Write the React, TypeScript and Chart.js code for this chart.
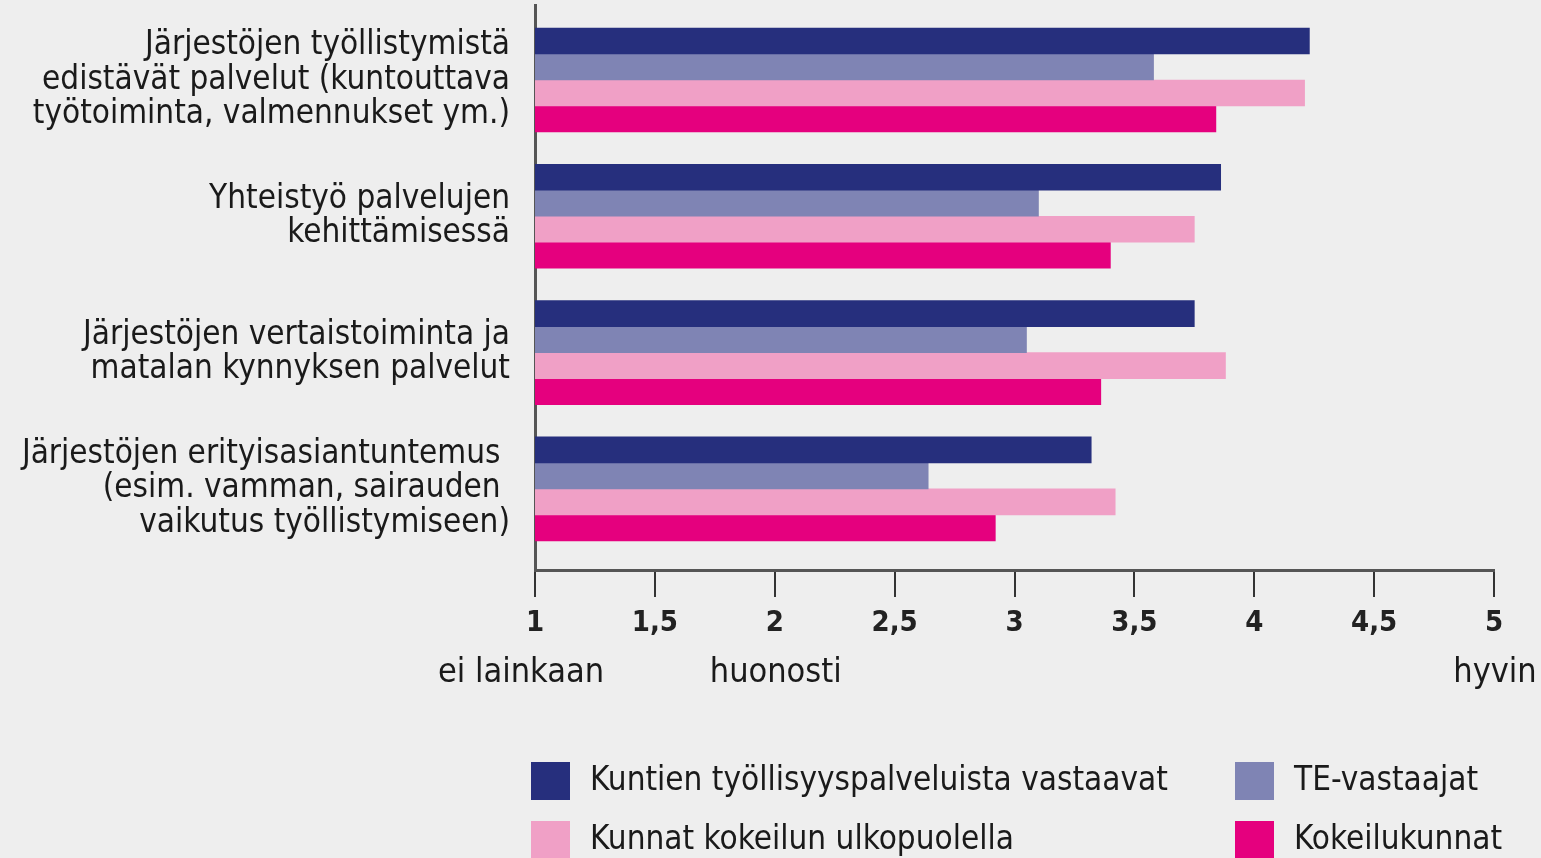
import React, { useEffect, useRef } from "react";
import { Chart, registerables } from "chart.js";

Chart.register(...registerables);

const categories: string[][] = [
  ["Järjestöjen työllistymistä", "edistävät palvelut (kuntouttava", "työtoiminta, valmennukset ym.)"],
  ["Yhteistyö palvelujen", "kehittämisessä"],
  ["Järjestöjen vertaistoiminta ja", "matalan kynnyksen palvelut"],
  ["Järjestöjen erityisasiantuntemus ", "(esim. vamman, sairauden ", "vaikutus työllistymiseen)"],
];

const seriesNames = [
  "Kuntien työllisyyspalveluista vastaavat",
  "TE-vastaajat",
  "Kunnat kokeilun ulkopuolella",
  "Kokeilukunnat",
];

const kuntienValues = [4.23, 3.86, 3.75, 3.32];
const teValues = [3.58, 3.1, 3.05, 2.64];
const ulkopuolellaValues = [4.21, 3.75, 3.88, 3.42];
const kokeiluValues = [3.84, 3.4, 3.36, 2.92];

const seriesColors = ["#262f7d", "#7f84b4", "#f0a0c6", "#e5007e"];

const xTicks = [1, 1.5, 2, 2.5, 3, 3.5, 4, 4.5, 5];
const scaleWords: { value: number; text: string }[] = [
  { value: 1, text: "ei lainkaan" },
  { value: 2, text: "huonosti" },
  { value: 5, text: "hyvin" },
];

const FONT = "'Liberation Sans Narrow', 'DejaVu Sans Condensed', 'Roboto Condensed', 'Liberation Sans', sans-serif";

export default function App() {
  const canvasRef = useRef<HTMLCanvasElement | null>(null);

  useEffect(() => {
    document.body.style.margin = "0";
    document.body.style.background = "#eeeeee";
    const canvas = canvasRef.current;
    if (!canvas) return;

    const allValues = [kuntienValues, teValues, ulkopuolellaValues, kokeiluValues];

    const wordsPlugin = {
      id: "scaleWords",
      afterDraw(chart: any) {
        const ctx = chart.ctx;
        const xs = chart.scales.x;
        ctx.save();
        ctx.font = `34px ${FONT}`;
        ctx.fillStyle = "#1a1a1a";
        ctx.textBaseline = "middle";
        ctx.textAlign = "center";
        const shifts: Record<number, number> = { 1: -14, 2: 1, 5: 1 };
        scaleWords.forEach((w) => {
          const px = xs.getPixelForValue(w.value) + (shifts[w.value] || 0);
          ctx.fillText(w.text, px, 673);
        });
        ctx.restore();
      },
    };

    const legendPlugin = {
      id: "gridLegend",
      afterDraw(chart: any) {
        const ctx = chart.ctx;
        ctx.save();
        ctx.font = `33px ${FONT}`;
        ctx.textBaseline = "middle";
        ctx.textAlign = "left";
        const cols = [531, 1235];
        const rows = [781, 840];
        seriesNames.forEach((name, i) => {
          const x = cols[i % 2];
          const y = rows[Math.floor(i / 2)];
          ctx.fillStyle = seriesColors[i];
          ctx.fillRect(x, y - 19, 39, 38);
          ctx.fillStyle = "#1a1a1a";
          ctx.fillText(name, x + 59, y);
        });
        ctx.restore();
      },
    };

    const chart = new Chart(canvas, {
      type: "bar",
      data: {
        datasets: allValues.map((vals, i) => ({
          label: seriesNames[i],
          data: vals.map((v, j) => ({ x: v, y: j })),
          backgroundColor: seriesColors[i],
          borderWidth: 0,
          barThickness: 26,
        })),
      },
      options: {
        indexAxis: "y",
        animation: false,
        responsive: false,
        devicePixelRatio: 1,
        layout: { padding: { top: 5, right: 47, left: 0, bottom: 0 } },
        plugins: {
          legend: { display: false },
          tooltip: { enabled: false },
        },
        scales: {
          x: {
            type: "linear",
            min: 1,
            max: 5,
            afterBuildTicks(axis: any) {
              axis.ticks = xTicks.map((v) => ({ value: v }));
            },
            afterFit(axis: any) {
              axis.height = 288;
              axis.paddingLeft = 0;
              axis.paddingRight = 0;
            },
            grid: {
              drawOnChartArea: false,
              drawTicks: true,
              tickLength: 27,
              color: "#333333",
              lineWidth: 2,
            },
            border: { display: true, color: "#555555", width: 3 },
            ticks: {
              padding: 9,
              color: "#222222",
              font: { family: FONT, size: 29, weight: "bold" },
              callback: (v: any) => String(v).replace(".", ","),
            },
          },
          y: {
            type: "linear",
            offset: false,
            min: -0.55,
            max: 3.595,
            reverse: true,
            afterBuildTicks(axis: any) {
              axis.ticks = categories.map((_, i) => ({ value: i }));
            },
            afterFit(axis: any) {
              axis.width = 535;
              axis.paddingTop = 0;
              axis.paddingBottom = 0;
            },
            grid: { display: false, drawTicks: false, offset: false },
            border: { display: true, color: "#555555", width: 3 },
            ticks: {
              padding: 25,
              color: "#1a1a1a",
              font: { family: FONT, size: 33, lineHeight: 1.045 },
              callback: (v: any) => categories[v as number] || "",
            },
          },
        },
      },
      plugins: [wordsPlugin, legendPlugin],
    } as any);

    return () => chart.destroy();
  }, []);

  return (
    <div style={{ width: 1541, height: 858, background: "#eeeeee", overflow: "hidden" }}>
      <canvas ref={canvasRef} width={1541} height={858} style={{ display: "block" }} />
    </div>
  );
}
